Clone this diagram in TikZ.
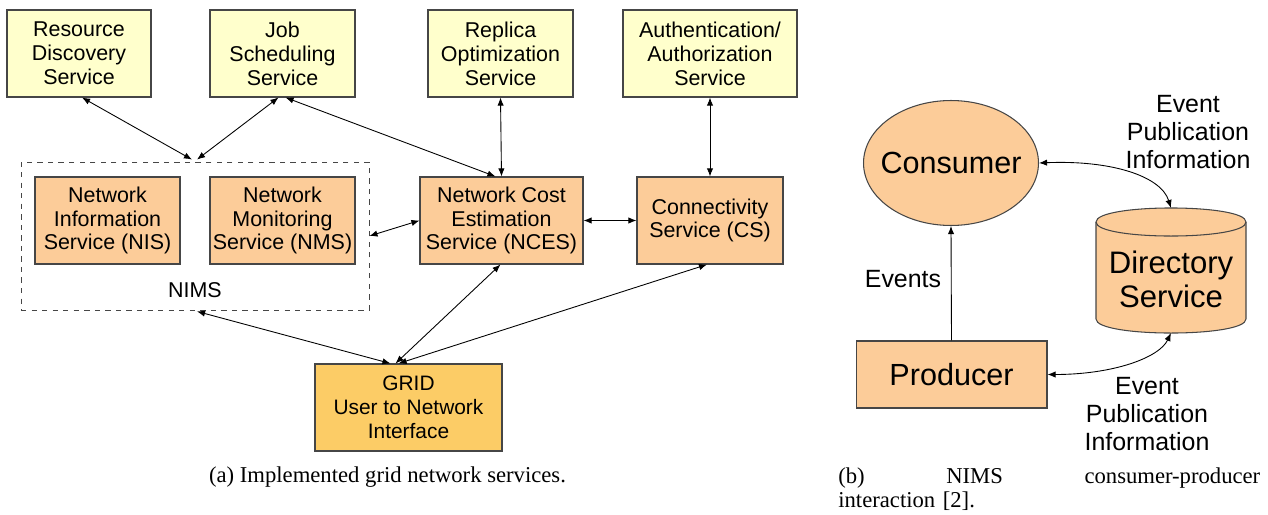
\documentclass[tikz,border=0pt]{standalone}
\usepackage{fontspec}
\setmainfont{Liberation Sans}
\newfontfamily\capfont{Liberation Serif}
\usetikzlibrary{arrows.meta,shapes.geometric,calc}
\definecolor{ylw}{RGB}{255,255,204}
\definecolor{org}{RGB}{252,204,153}
\definecolor{gld}{RGB}{252,204,102}
\definecolor{bord}{RGB}{70,70,70}
\begin{document}
\begin{tikzpicture}[x=0.02cm,y=-0.02cm,
  box/.style={draw=bord, line width=0.6pt, align=center, inner sep=0pt,
    font=\fontsize{12.2}{13.6}\selectfont, minimum height=1.74cm},
  svc/.style={box, fill=ylw},
  net/.style={box, fill=org},
  mytip/.tip={Latex[length=4.6pt,width=3.6pt]},
  arr/.style={mytip-mytip, line width=0.5pt},
  onearr/.style={-mytip, line width=0.5pt},
  lbl/.style={align=center, inner sep=0pt, font=\fontsize{14.2}{15.9}\selectfont},
  big/.style={font=\fontsize{17.4}{19.3}\selectfont},
  captxt/.style={inner sep=0pt, font=\capfont\fontsize{12.9}{14}\selectfont}
]
\useasboundingbox (0,0) rectangle (1268,514);
% ---- left diagram ----
\node[svc, minimum width=2.88cm] (res) at (79,53.5) {Resource\\Discovery\\Service};
\node[svc, minimum width=2.9cm] (job) at (282.5,53.5) {Job\\Scheduling\\Service};
\node[svc, minimum width=2.9cm] (rep) at (500.5,53.5) {Replica\\Optimization\\Service};
\node[svc, minimum width=3.48cm] (auth) at (710,53.5) {Authentication/\\Authorization\\Service};
\node[draw=bord, dashed, line width=0.5pt, minimum width=6.96cm, minimum height=2.96cm, inner sep=0pt] (nims) at (195,236) {};
\node[net, minimum width=2.9cm] (nis) at (107.5,220.5) {Network\\Information\\Service (NIS)};
\node[net, minimum width=2.9cm] (nms) at (282.5,220.5) {Network\\Monitoring\\Service (NMS)};
\node[inner sep=0pt, font=\fontsize{12.2}{13.6}\selectfont] (nimslbl) at (195,290) {NIMS};
\node[net, minimum width=3.26cm] (nces) at (501.5,220.5) {Network Cost\\Estimation\\Service (NCES)};
\node[net, minimum width=2.92cm] (cs) at (710,220.5) {Connectivity\\Service (CS)};
\node[box, fill=gld, minimum width=3.74cm, font=\fontsize{11.9}{13.6}\selectfont] (grid) at (408.5,407.5) {GRID\\User to Network\\Interface};

\draw[arr] ($(res.south)+(3,0)$) -- ($(nims.north)+(-3,-2)$);
\draw[arr] ($(job.south)+(-4,0)$) -- ($(nims.north)+(2,-2)$);
\draw[arr] ($(job.south)+(3,0)$) -- ($(nces.north)+(-6,0)$);
\draw[arr] (rep.south) -- (nces.north);
\draw[arr] (auth.south) -- (cs.north);
\draw[arr] (nims.east) -- (nces.west);
\draw[arr] (nces.east) -- (cs.west);
\draw[arr] ($(grid.north)+(-18,0)$) -- ($(nims.south)+(2,1)$);
\draw[arr] ($(grid.north)+(-13,0)$) -- ($(nces.south)+(-1,0)$);
\draw[arr] ($(grid.north)+(-10,0)$) -- ($(cs.south)+(-3,0)$);

\node[captxt] (capa) at (387.5,477) {(a) Implemented grid network services.};

% ---- right diagram ----
\node[ellipse, draw=bord, line width=0.6pt, fill=org, minimum width=3.5cm, minimum height=2.5cm, inner sep=0pt] (cons) at (951,163) {};
\node[big, inner sep=0pt] (constxt) at (cons.center) {Consumer};
\node[draw=bord, line width=0.6pt, fill=org, minimum width=3.82cm, minimum height=1.34cm, inner sep=0pt, big] (prod) at (951.5,374.5) {Producer};
\path[draw=bord, line width=0.6pt, fill=org] (1096,222) -- (1096,319) .. controls (1096,337.7) and (1246,337.7) .. (1246,319) -- (1246,222) .. controls (1246,203.3) and (1096,203.3) .. cycle;
\draw[bord, line width=0.6pt] (1096,222) .. controls (1096,240.7) and (1246,240.7) .. (1246,222);
\node[align=center, inner sep=0pt, font=\fontsize{17.7}{19.3}\selectfont] (dir) at (1171,279) {Directory\\Service};
\coordinate (dirtop) at (1171,208);
\coordinate (dirbot) at (1171,333);

\draw[onearr] (prod.north) -- (cons.south);
\node[lbl] (evl) at (903,279) {Events};
\draw[arr] (cons.east) .. controls ($(cons.east)+(72,-3)$) and ($(dirtop)+(-10,-32)$) .. (dirtop);
\draw[arr] (prod.east) .. controls ($(prod.east)+(65,0)$) and ($(dirbot)+(-12,25)$) .. (dirbot);
\node[lbl] (epi1) at (1188,132) {Event\\Publication\\Information};
\node[lbl] (epi2) at (1147,414) {Event\\Publication\\Information};

\node[captxt, anchor=north west, text width=8.44cm, align=left] (capb) at (838,467) {(b)\hfill NIMS\hfill consumer-producer\\interaction [2].};
\end{tikzpicture}
\end{document}
